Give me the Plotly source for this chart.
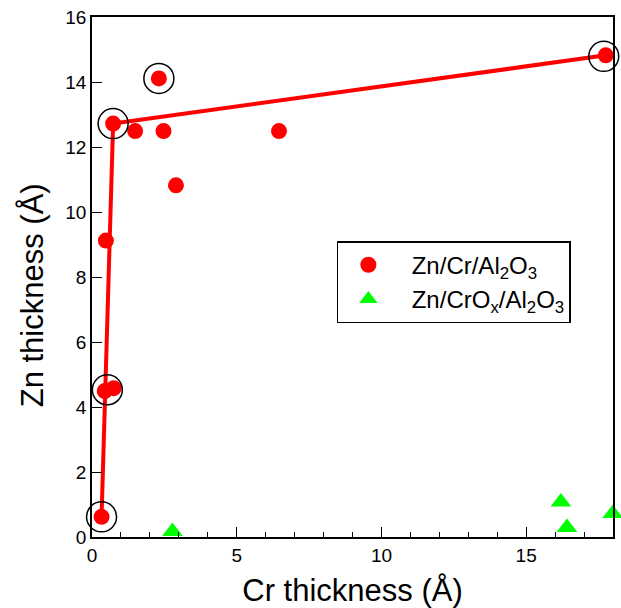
import plotly.graph_objects as go

# Zn/Cr/Al2O3 data (red circles)
cr_x = [0.33, 0.44, 0.75, 0.48, 0.73, 1.49, 2.47, 2.31, 2.90, 6.46, 17.75]
cr_y = [0.62, 4.49, 4.58, 9.12, 12.72, 12.49, 12.49, 14.11, 10.82, 12.49, 14.82]

# guide line through selected points
line_x = [0.33, 0.73, 17.75]
line_y = [0.62, 12.72, 14.82]

# open-circle highlighted points
hl_x = [0.33, 0.53, 0.73, 2.31, 17.68]
hl_y = [0.62, 4.53, 12.72, 14.11, 14.79]

# Zn/CrOx/Al2O3 data (green triangles)
crox_x = [2.78, 16.20, 16.41, 17.99]
crox_y = [0.17, 1.08, 0.29, 0.72]

x_ticks = [0, 5, 10, 15]
y_ticks = [0, 2, 4, 6, 8, 10, 12, 14, 16]
FONT = "Liberation Sans, Arial, Helvetica, sans-serif"

fig = go.Figure()
fig.add_trace(go.Scatter(x=line_x, y=line_y, mode="lines",
                         line=dict(color="#ff0000", width=4),
                         showlegend=False, cliponaxis=False))
fig.add_trace(go.Scatter(x=cr_x, y=cr_y, mode="markers",
                         marker=dict(symbol="circle", size=16, color="#ff0000"),
                         name="&nbsp;&nbsp;Zn/Cr/Al<sub>2</sub>O<sub>3</sub>", cliponaxis=False))
fig.add_trace(go.Scatter(x=hl_x, y=hl_y, mode="markers",
                         marker=dict(symbol="circle-open", size=30, color="black",
                                     line=dict(width=1.5, color="black")),
                         showlegend=False, cliponaxis=False))
fig.add_trace(go.Scatter(x=crox_x, y=crox_y, mode="markers",
                         marker=dict(symbol="triangle-up", size=18, color="#00ff00"),
                         name="&nbsp;&nbsp;Zn/CrO<sub>x</sub>/Al<sub>2</sub>O<sub>3</sub>", cliponaxis=False))

axis_common = dict(showline=True, linecolor="black", linewidth=1.5, mirror=True,
                   ticks="inside", ticklen=10, tickwidth=1.2, tickcolor="black",
                   showgrid=False, zeroline=False,
                   tickfont=dict(family=FONT, size=19, color="black"))

fig.update_xaxes(range=[0, 18], tickvals=x_ticks,
                 minor=dict(dtick=1, ticks="inside", ticklen=5, tickwidth=1.2,
                            tickcolor="black", showgrid=False),
                 title=dict(text="Cr thickness (Å)", font=dict(family=FONT, size=31, color="black"),
                            standoff=20),
                 **axis_common)
fig.update_yaxes(range=[0, 16], tickvals=y_ticks, **axis_common)

fig.add_annotation(text="Zn thickness (Å)", xref="paper", yref="paper",
                   x=-0.115, y=0.465, xanchor="center", yanchor="middle",
                   textangle=-90, showarrow=False,
                   font=dict(family=FONT, size=31, color="black"))

fig.update_layout(
    width=621, height=608,
    margin=dict(l=92, r=8, t=17, b=71, autoexpand=False),
    paper_bgcolor="white", plot_bgcolor="white",
    font=dict(family=FONT, color="black"),
    legend=dict(x=0.47, y=0.569, xanchor="left", yanchor="top",
                bordercolor="black", borderwidth=1.5, bgcolor="white",
                font=dict(family=FONT, size=24, color="black"),
                itemwidth=50, tracegroupgap=0),
)

fig.write_html("out.html", config={"displayModeBar": False},
               post_script="document.body.style.margin='0';document.body.style.padding='0';")
